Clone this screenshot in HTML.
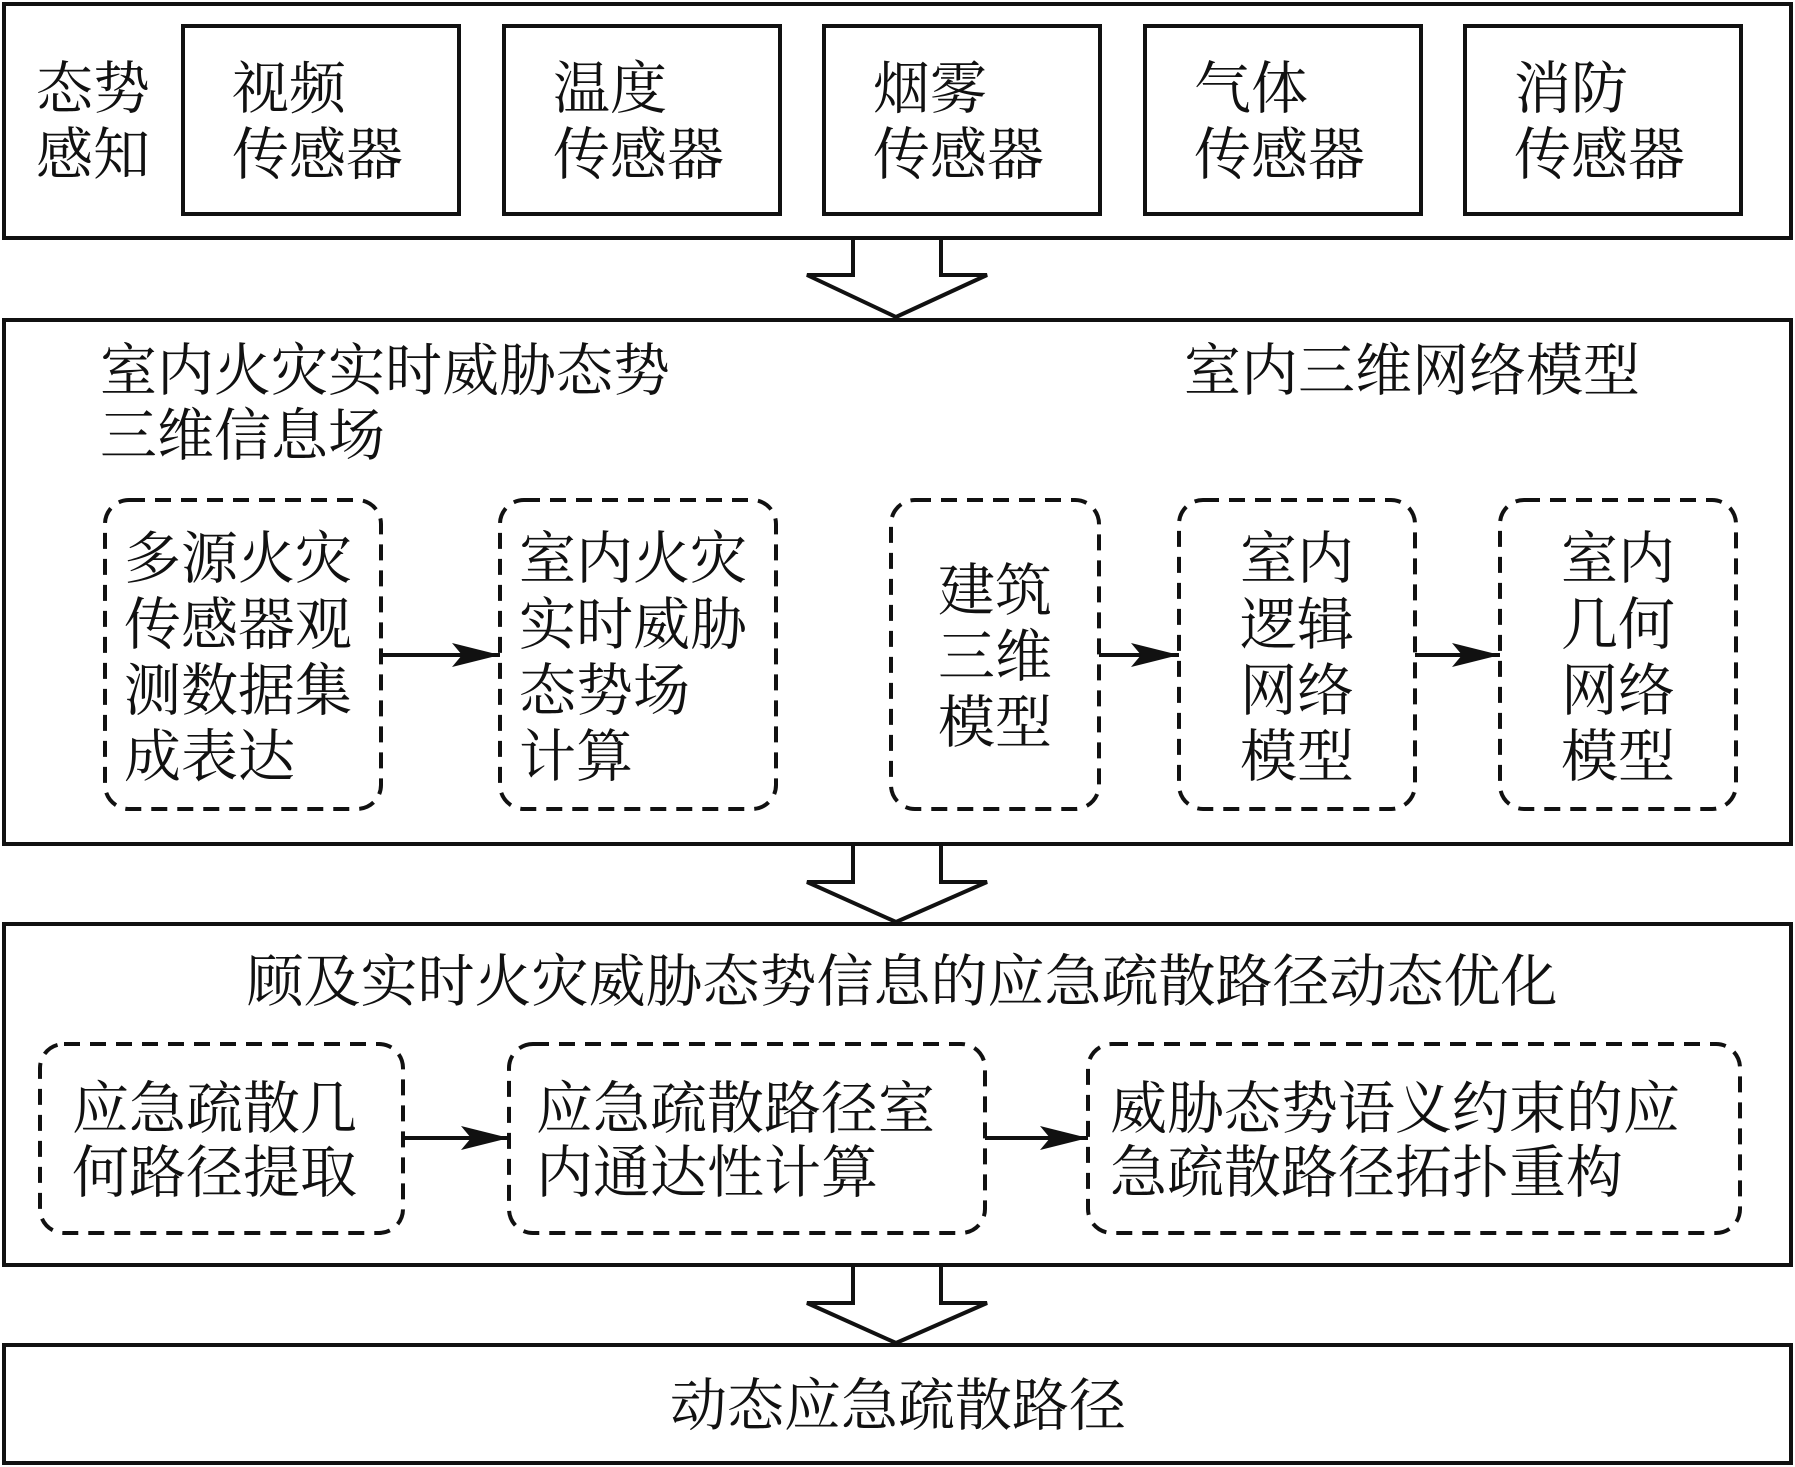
<!DOCTYPE html>
<html><head><meta charset="utf-8"><style>
html,body{margin:0;padding:0;background:#fff;}
svg{display:block;}
text{font-family:"Liberation Serif","Noto Serif CJK SC",serif;font-size:57px;fill:#111;}
</style></head><body>
<svg width="1795" height="1467" viewBox="0 0 1795 1467" xmlns="http://www.w3.org/2000/svg">
<defs><marker id="a" markerWidth="10" markerHeight="10" refX="9" refY="5" orient="auto" markerUnits="userSpaceOnUse"><path d="M0,0 L10,5 L0,10 Z" fill="#111"/></marker>
<marker id="b" markerWidth="50" markerHeight="24" refX="48" refY="12" orient="auto" markerUnits="userSpaceOnUse"><path d="M0,0 L48,12 L0,24 L10,12 Z" fill="#111"/></marker></defs>
<g fill="none" stroke="#111" stroke-width="4">
<rect x="4" y="4" width="1787" height="234"/>
<rect x="183" y="26" width="276" height="188"/>
<rect x="504" y="26" width="276" height="188"/>
<rect x="824" y="26" width="276" height="188"/>
<rect x="1145" y="26" width="276" height="188"/>
<rect x="1465" y="26" width="276" height="188"/>
<rect x="4" y="320" width="1787" height="524"/>
<rect x="4" y="924" width="1787" height="341"/>
<rect x="4" y="1345" width="1787" height="118"/>
<path d="M853,238 V275 H807 L896,317 L987,275 H941 V238"/>
<path d="M853,844 V882 H807 L896,922 L987,882 H941 V844"/>
<path d="M853,1265 V1303 H807 L896,1343 L987,1303 H941 V1265"/>
</g>
<g fill="none" stroke="#111" stroke-width="4" stroke-dasharray="16,10">
<rect x="105" y="500" width="276" height="309" rx="24"/>
<rect x="500" y="500" width="276" height="309" rx="24"/>
<rect x="891" y="500" width="208" height="309" rx="24"/>
<rect x="1179" y="500" width="236" height="309" rx="24"/>
<rect x="1500" y="500" width="236" height="309" rx="24"/>
<rect x="40" y="1044" width="363" height="189" rx="24"/>
<rect x="509" y="1044" width="476" height="189" rx="24"/>
<rect x="1088" y="1044" width="652" height="189" rx="24"/>
</g>
<g stroke="#111" stroke-width="4" marker-end="url(#b)">
<line x1="381" y1="655" x2="500" y2="655"/>
<line x1="1099" y1="655" x2="1179" y2="655"/>
<line x1="1415" y1="655" x2="1500" y2="655"/>
<line x1="403" y1="1138" x2="509" y2="1138"/>
<line x1="985" y1="1138" x2="1088" y2="1138"/>
</g>
<text x="36" y="108">态势</text><text x="36" y="174">感知</text>
<text x="232" y="108">视频</text><text x="232" y="174">传感器</text>
<text x="553" y="108">温度</text><text x="553" y="174">传感器</text>
<text x="873" y="108">烟雾</text><text x="873" y="174">传感器</text>
<text x="1194" y="108">气体</text><text x="1194" y="174">传感器</text>
<text x="1514" y="108">消防</text><text x="1514" y="174">传感器</text>
<text x="100" y="390">室内火灾实时威胁态势</text>
<text x="100" y="455">三维信息场</text>
<text x="1184" y="390">室内三维网络模型</text>
<text x="124" y="578">多源火灾</text><text x="124" y="644">传感器观</text><text x="124" y="710">测数据集</text><text x="124" y="776">成表达</text>
<text x="519" y="578">室内火灾</text><text x="519" y="644">实时威胁</text><text x="519" y="710">态势场</text><text x="519" y="776">计算</text>
<g text-anchor="middle">
<text x="995" y="610">建筑</text><text x="995" y="676">三维</text><text x="995" y="742">模型</text>
<text x="1297" y="578">室内</text><text x="1297" y="644">逻辑</text><text x="1297" y="710">网络</text><text x="1297" y="776">模型</text>
<text x="1618" y="578">室内</text><text x="1618" y="644">几何</text><text x="1618" y="710">网络</text><text x="1618" y="776">模型</text>
<text x="902" y="1001">顾及实时火灾威胁态势信息的应急疏散路径动态优化</text>
<text x="898" y="1425">动态应急疏散路径</text>
</g>
<text x="72" y="1128">应急疏散几</text><text x="72" y="1192">何路径提取</text>
<text x="536" y="1128">应急疏散路径室</text><text x="536" y="1192">内通达性计算</text>
<text x="1110" y="1128">威胁态势语义约束的应</text><text x="1110" y="1192">急疏散路径拓扑重构</text>
</svg>
</body></html>
